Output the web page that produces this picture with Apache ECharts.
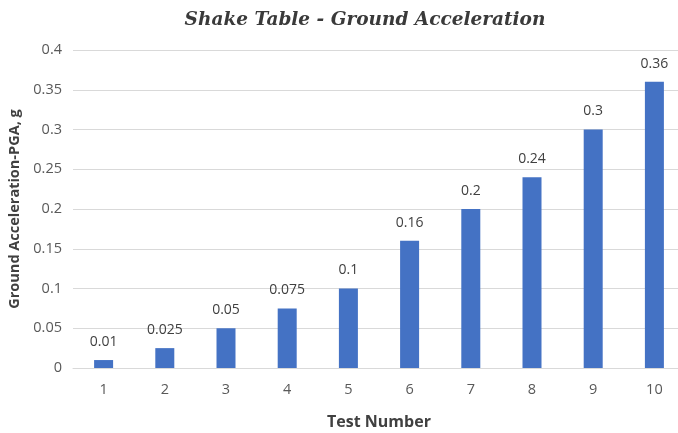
<!DOCTYPE html>
<html><head><meta charset="utf-8">
<script src="https://cdn.jsdelivr.net/npm/echarts@6/dist/echarts.min.js"></script>
<style>html,body{margin:0;padding:0;background:#fff}#c{width:678px;height:433px}</style>
</head><body><div id="c"></div>
<script>
const categories = ['1','2','3','4','5','6','7','8','9','10'];
const pga = [0.01, 0.025, 0.05, 0.075, 0.1, 0.16, 0.2, 0.24, 0.3, 0.36];
const yTicks = [0, 0.05, 0.1, 0.15, 0.2, 0.25, 0.3, 0.35, 0.4];

const chart = echarts.init(document.getElementById('c'));
chart.setOption({
  animation: false,
  title: {
    text: 'Shake Table - Ground Acceleration',
    left: 360, top: 6, textAlign: 'center',
    textStyle: { fontFamily: 'DejaVu Serif', fontStyle: 'italic', fontWeight: 'bold', fontSize: 18.5, color: '#3a3a3a' }
  },
  grid: { left: 73, width: 612, top: 50, height: 318, outerBoundsMode: 'none', containLabel: false },
  xAxis: {
    type: 'category', data: categories,
    name: 'Test Number', nameLocation: 'middle', nameGap: 46,
    nameTextStyle: { fontFamily: 'Open Sans', fontWeight: 'bold', fontSize: 16, color: '#404040' },
    axisLine: { lineStyle: { color: '#d9d9d9' } },
    axisTick: { show: false },
    axisLabel: { margin: 14, fontFamily: 'Open Sans', fontSize: 14.5, color: '#595959' }
  },
  yAxis: {
    type: 'value', min: yTicks[0], max: yTicks[yTicks.length-1], interval: 0.05,
    name: 'Ground Acceleration-PGA, g', nameLocation: 'middle', nameGap: 51,
    nameTextStyle: { fontFamily: 'Open Sans', fontWeight: 'bold', fontSize: 14.5, color: '#404040' },
    axisLine: { show: false }, axisTick: { show: false },
    axisLabel: { margin: 11, fontFamily: 'Open Sans', fontSize: 14.5, color: '#595959' },
    splitLine: { lineStyle: { color: '#d9d9d9' } }
  },
  series: [{
    type: 'bar', data: pga, barWidth: 19,
    itemStyle: { color: '#4472C4' },
    label: { show: true, position: 'top', distance: 11, fontFamily: 'Open Sans', fontSize: 14, color: '#404040' }
  }]
});
</script></body></html>
